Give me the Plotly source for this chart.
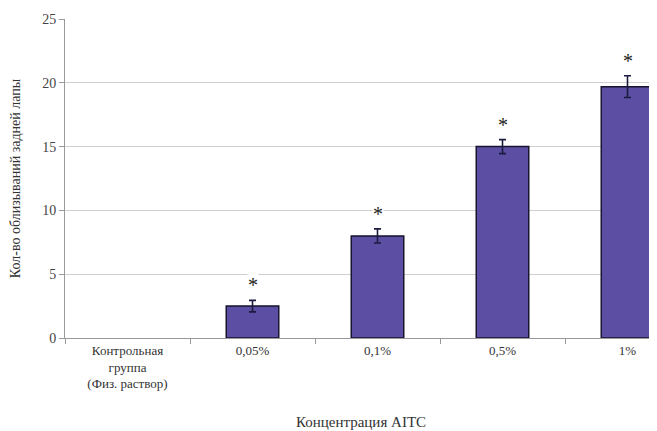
import plotly.graph_objects as go

categories = ["Контрольная<br>группа<br>(Физ. раствор)", "0,05%", "0,1%", "0,5%", "1%"]
values = [0, 2.5, 8.0, 15.0, 19.7]
errors = [0, 0.45, 0.55, 0.55, 0.85]
marks = ["", "*", "*", "*", "*"]
y_ticks = [0, 5, 10, 15, 20, 25]

FONT = "Times New Roman, Liberation Serif, DejaVu Serif, serif"

fig = go.Figure()
fig.add_trace(go.Bar(
    x=categories, y=[v if v > 0 else None for v in values], width=0.42,
    marker=dict(color="#5b4ea3", line=dict(color="#15152e", width=1.5)),
    error_y=dict(type="data", array=[e if e > 0 else None for e in errors],
                 color="#1b1b40", thickness=1.6, width=3.5),
    showlegend=False,
))

for c, v, e, m in zip(categories, values, errors, marks):
    if m:
        fig.add_annotation(x=c, y=v + e, text=m, showarrow=False, yanchor="bottom",
                           yshift=3, font=dict(family=FONT, size=20, color="#222"),
                           bgcolor="white", borderpad=0)

# page body has an 8px margin, so the figure is drawn 8px smaller and shifted
fig.update_layout(
    width=649, height=423,
    margin=dict(l=57, r=0, t=11, b=93),
    paper_bgcolor="white", plot_bgcolor="white",
    font=dict(family=FONT, size=13, color="#333"),
)
fig.update_xaxes(
    range=[-0.5, 4.236], tickson="boundaries", ticks="outside", ticklen=5,
    tickcolor="#999", showline=True, linecolor="#999", linewidth=1, automargin=False,
    tickfont=dict(family=FONT, size=13, color="#333"),
    title=dict(text="Концентрация AITC", font=dict(family=FONT, size=15, color="#333"), standoff=26),
)
fig.update_yaxes(
    range=[0, 25], tickvals=y_ticks, ticks="outside", ticklen=5, tickcolor="#999",
    showline=True, linecolor="#999", linewidth=1, automargin=False,
    showgrid=True, gridcolor="#cfcfcf", gridwidth=1, zeroline=False,
    tickfont=dict(family=FONT, size=14, color="#444"),
    title=dict(text="Кол-во облизываний задней лапы", font=dict(family=FONT, size=14, color="#333"), standoff=22),
)
fig.write_html("out.html")
